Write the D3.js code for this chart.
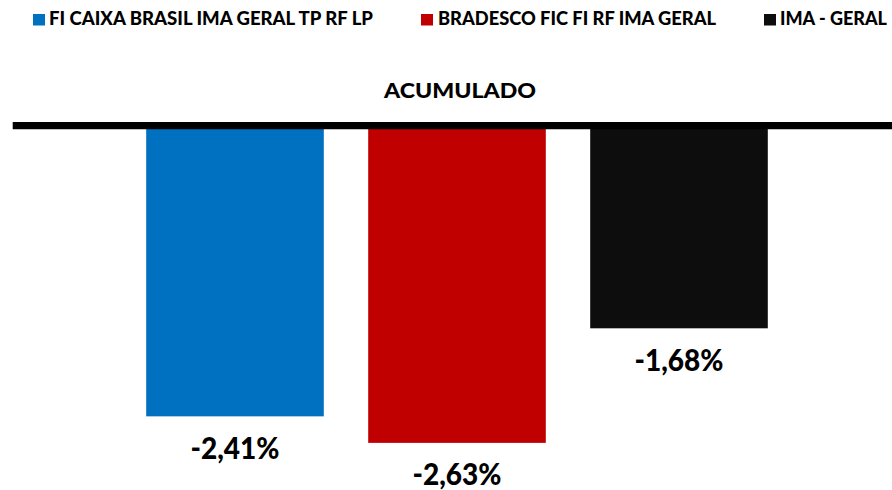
<!DOCTYPE html>
<html>
<head>
<meta charset="utf-8">
<script src="https://cdn.jsdelivr.net/npm/d3@7"></script>
<style>
  body { margin: 0; background: #ffffff; }
  text { font-family: Lato, "Open Sans", sans-serif; font-weight: bold; fill: #000000; }
</style>
</head>
<body>
<script>
// data
var categories = ["FI CAIXA BRASIL IMA GERAL TP RF LP", "BRADESCO FIC FI RF IMA GERAL", "IMA - GERAL"];
var values = [-2.41, -2.63, -1.68];
var colors = ["#0070C0", "#C00000", "#0D0D0D"];
var valueLabels = ["-2,41%", "-2,63%", "-1,68%"];
var title = "ACUMULADO";

var canvasWidth = 892;
var canvasHeight = 490;

var svg = d3.select("body").append("svg")
    .attr("width", canvasWidth)
    .attr("height", canvasHeight);

var xScale = d3.scaleBand()
    .domain(categories)
    .range([124, 790])
    .paddingInner(0.2)
    .paddingOuter(0.1);

var yScale = d3.scaleLinear()
    .domain([-3, 0])
    .range([487.5, 125.7]);

// legend
var legendX = [33, 421, 764];
var legendTextLen = [324, 278, 107];
var legend = svg.selectAll(".legend")
    .data(categories)
    .enter().append("g")
    .attr("class", "legend")
    .attr("transform", function(d, i) { return "translate(" + legendX[i] + ",0)"; });

legend.append("rect")
    .attr("x", 0)
    .attr("y", 14)
    .attr("width", 12)
    .attr("height", 11.5)
    .attr("fill", function(d, i) { return colors[i]; });

legend.append("text")
    .attr("x", function(d, i) { return i == 1 ? 17 : 16; })
    .attr("y", 25.2)
    .style("font-size", "18px")
    .style("font-weight", "900")
    .attr("textLength", function(d, i) { return legendTextLen[i]; })
    .attr("lengthAdjust", "spacingAndGlyphs")
    .text(function(d) { return d; });

// title
svg.append("text")
    .attr("x", 460)
    .attr("y", 97.7)
    .attr("text-anchor", "middle")
    .style("font-size", "20px")
    .style("font-weight", "900")
    .attr("textLength", 152)
    .attr("lengthAdjust", "spacingAndGlyphs")
    .text(title);

// bars
svg.selectAll(".bar")
    .data(values)
    .enter().append("rect")
    .attr("class", "bar")
    .attr("x", function(d, i) { return xScale(categories[i]); })
    .attr("y", yScale(0))
    .attr("width", xScale.bandwidth())
    .attr("height", function(d) { return yScale(d) - yScale(0); })
    .attr("fill", function(d, i) { return colors[i]; });

// zero line
svg.append("line")
    .attr("x1", 12.7)
    .attr("x2", canvasWidth)
    .attr("y1", yScale(0))
    .attr("y2", yScale(0))
    .attr("stroke", "#000000")
    .attr("stroke-width", 7.3);

// value labels
svg.selectAll(".vlabel")
    .data(values)
    .enter().append("text")
    .attr("class", "vlabel")
    .attr("x", function(d, i) { return xScale(categories[i]) + xScale.bandwidth() / 2; })
    .attr("y", function(d) { return yScale(d) + 42.5; })
    .attr("text-anchor", "middle")
    .style("font-size", "30px")
    .style("font-weight", "900")
    .attr("textLength", 89)
    .attr("lengthAdjust", "spacingAndGlyphs")
    .text(function(d, i) { return valueLabels[i]; });
</script>
</body>
</html>
